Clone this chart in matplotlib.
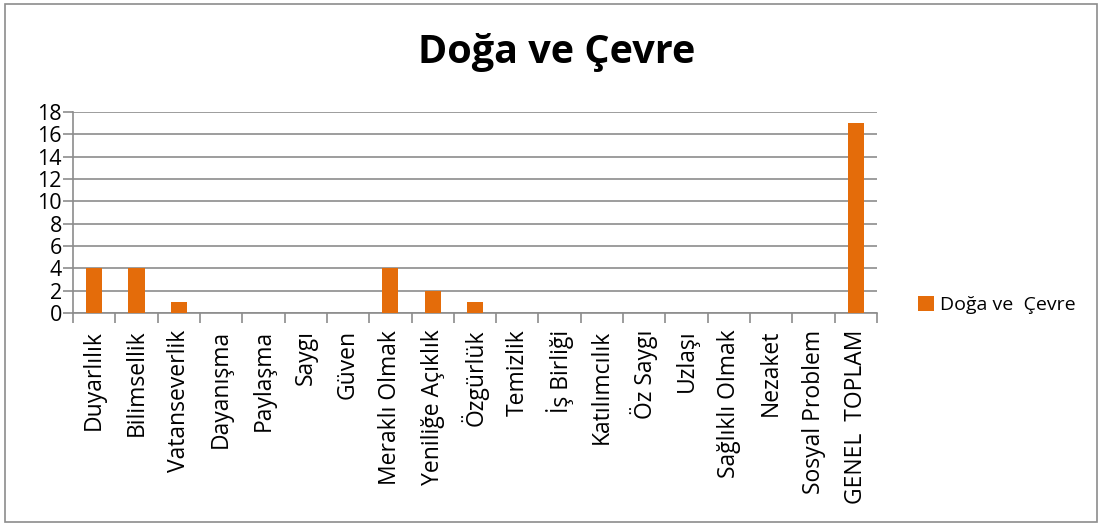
import matplotlib
matplotlib.use("Agg")
import matplotlib.pyplot as plt
from matplotlib.patches import Rectangle
import numpy as np

categories = ["Duyarlılık", "Bilimsellik", "Vatanseverlik", "Dayanışma", "Paylaşma",
              "Saygı", "Güven", "Meraklı Olmak", "Yeniliğe Açıklık", "Özgürlük",
              "Temizlik", "İş Birliği", "Katılımcılık", "Öz Saygı", "Uzlaşı",
              "Sağlıklı Olmak", "Nezaket", "Sosyal Problem", "GENEL  TOPLAM"]
values = [4, 4, 1, 0, 0, 0, 0, 4, 2, 1, 0, 0, 0, 0, 0, 0, 0, 0, 17]
series_name = "Doğa ve  Çevre"
title = "Doğa ve Çevre"
yticks = [0, 2, 4, 6, 8, 10, 12, 14, 16, 18]

plt.rcParams['font.family'] = ['Open Sans', 'DejaVu Sans']

fig = plt.figure(figsize=(11.03, 5.26), dpi=100)
ax = fig.add_axes([73/1103, 1-313/526, (877-73)/1103, (313-112)/526])

x = np.arange(len(categories))
ax.bar(x, values, width=0.38, color="#E46C0A", label=series_name, zorder=3)

ax.set_xlim(-0.5, len(categories)-0.5)
ax.set_ylim(0, 18)
ax.set_yticks(yticks)
ax.set_yticklabels([str(v) for v in yticks], fontsize=15.5)
ax.yaxis.grid(True, color="#8c8c8c", linewidth=1.2, zorder=0)
ax.tick_params(axis='y', length=7, color="#8c8c8c", width=1.2, pad=1)

ax.set_xticks(x)
ax.set_xticklabels(categories, rotation=90, fontsize=16.5)
ax.set_xticks(np.arange(-0.5, len(categories), 1), minor=True)
ax.tick_params(axis='x', which='major', length=0, pad=12)
ax.tick_params(axis='x', which='minor', length=7, color="#8c8c8c", width=1.2)

for s in ['top', 'right']:
    ax.spines[s].set_visible(False)
for s in ['left', 'bottom']:
    ax.spines[s].set_color("#8c8c8c")
    ax.spines[s].set_linewidth(1.2)

fig.text(557/1103, 1-52/526, title, ha='center', va='center', fontsize=28.5, fontweight='bold')

leg = fig.legend(loc='center left', bbox_to_anchor=(900/1103, 1-305/526), frameon=False,
                 fontsize=14, handlelength=0.85, handleheight=0.85, handletextpad=0.3)

fig.patches.append(Rectangle((5/1103, 4/526), 1092/1103, 518/526, transform=fig.transFigure,
                             fill=False, edgecolor="#8c8c8c", linewidth=1.2))

fig.savefig("out.png", dpi=100)
